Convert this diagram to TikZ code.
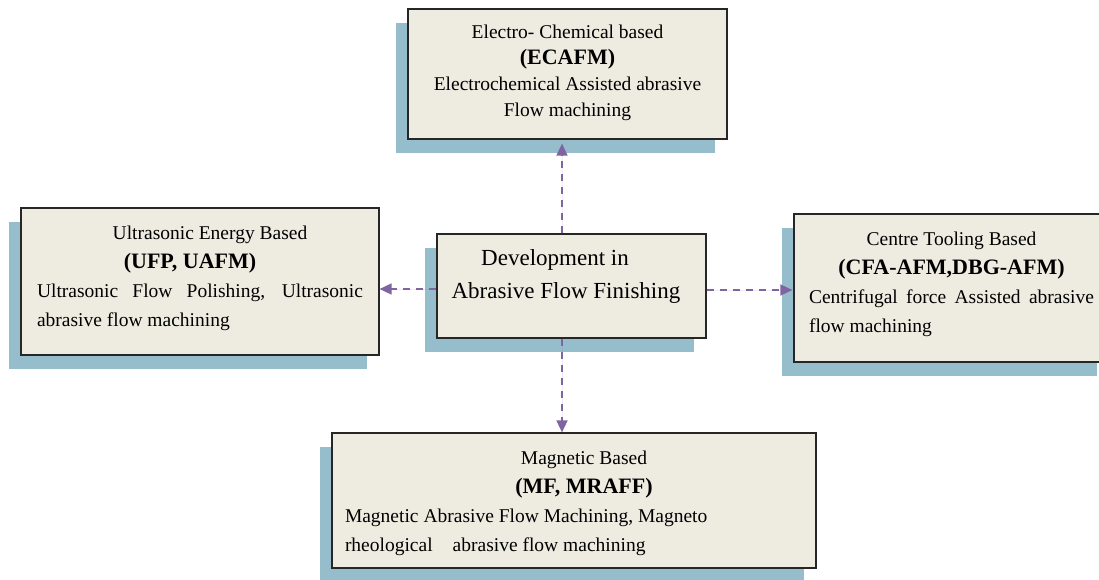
\documentclass[tikz,border=0pt]{standalone}
\usepackage{fontspec}
\setmainfont{Liberation Serif}
\usetikzlibrary{shadows,arrows.meta,positioning}
\definecolor{boxfill}{RGB}{238,236,225}
\definecolor{boxshadow}{RGB}{149,189,203}
\definecolor{linkpurple}{RGB}{128,100,162}

\begin{document}
\begin{tikzpicture}[x=1pt,y=1pt,
  box/.style={draw=black!85,line width=1.2pt,fill=boxfill,
    drop shadow={shadow xshift=-12.5pt,shadow yshift=-14pt,fill=boxshadow,opacity=1}},
  txt/.style={inner sep=0pt,font=\fontsize{19.5}{28}\selectfont},
  link/.style={->,>={Triangle[length=12pt,width=11pt]},draw=linkpurple,fill=linkpurple,
    line width=1.6pt,dash pattern=on 7.5pt off 5.5pt}]
\useasboundingbox (0,0) rectangle (1099,579);

% boxes
\node[box,minimum width=269pt,minimum height=104pt] (N0) at (571.5,293) {};
\node[box,minimum width=319pt,minimum height=130pt] (N1) at (567.5,505) {};
\node[box,minimum width=358pt,minimum height=147pt] (N2) at (200,297.5) {};
\node[box,minimum width=315pt,minimum height=148pt] (N3) at (951.5,291) {};
\node[box,minimum width=484pt,minimum height=135pt] (N4) at (574,78.5) {};

% texts
\node[txt,below=16pt of N0.north,xshift=-5.5pt,align=center,font=\fontsize{23}{33}\selectfont] (T0)
  {Development in\hspace*{22pt}\\Abrasive Flow Finishing};
\node[txt,below=16pt of N1.north,align=center,font=\fontsize{19.5}{26}\selectfont] (T1)
  {Electro- Chemical based\\{\fontsize{22}{26}\selectfont\bfseries (ECAFM)}\\Electrochemical Assisted abrasive\\Flow machining};
\node[txt,below=18pt of N2.north,text width=326pt,align=justify,font=\fontsize{19.5}{29}\selectfont] (T2)
  {{\centering\hspace*{20pt}Ultrasonic Energy Based\\{\fontsize{22}{29}\selectfont\bfseries (UFP, UAFM)}\hspace*{20pt}\par}
   Ultrasonic Flow Polishing, Ultrasonic\linebreak abrasive flow machining};
\node[txt,below=18pt of N3.north,text width=285pt,align=justify,font=\fontsize{19.5}{29}\selectfont] (T3)
  {{\centering Centre Tooling Based\hspace*{26pt}\\{\fontsize{22}{29}\selectfont\bfseries (CFA-AFM,DBG-AFM)}\par}
   Centrifugal force Assisted abrasive\linebreak flow machining};
\node[txt,below=18pt of N4.north,xshift=10pt,text width=478pt,align=flush left,font=\fontsize{19.5}{29}\selectfont] (T4)
  {{\centering Magnetic Based\\{\fontsize{22}{29}\selectfont\bfseries (MF, MRAFF)}\par}
   Magnetic Abrasive Flow Machining, Magneto\\rheological\hspace{20pt}abrasive flow machining};

% links
\draw[link,shorten >=4pt] ([xshift=-9.5pt]N0.north) -- ([xshift=-9.5pt]N0.north |- N1.south);
\draw[link] ([xshift=-9.5pt]N0.south) -- ([xshift=-9.5pt]N0.south |- N4.north);
\draw[link] ([yshift=-3pt]N0.west) -- ([yshift=-3pt]N0.west -| N2.east);
\draw[link,shorten >=1pt] ([yshift=-4pt]N0.east) -- ([yshift=-4pt]N0.east -| N3.west);
\end{tikzpicture}
\end{document}
